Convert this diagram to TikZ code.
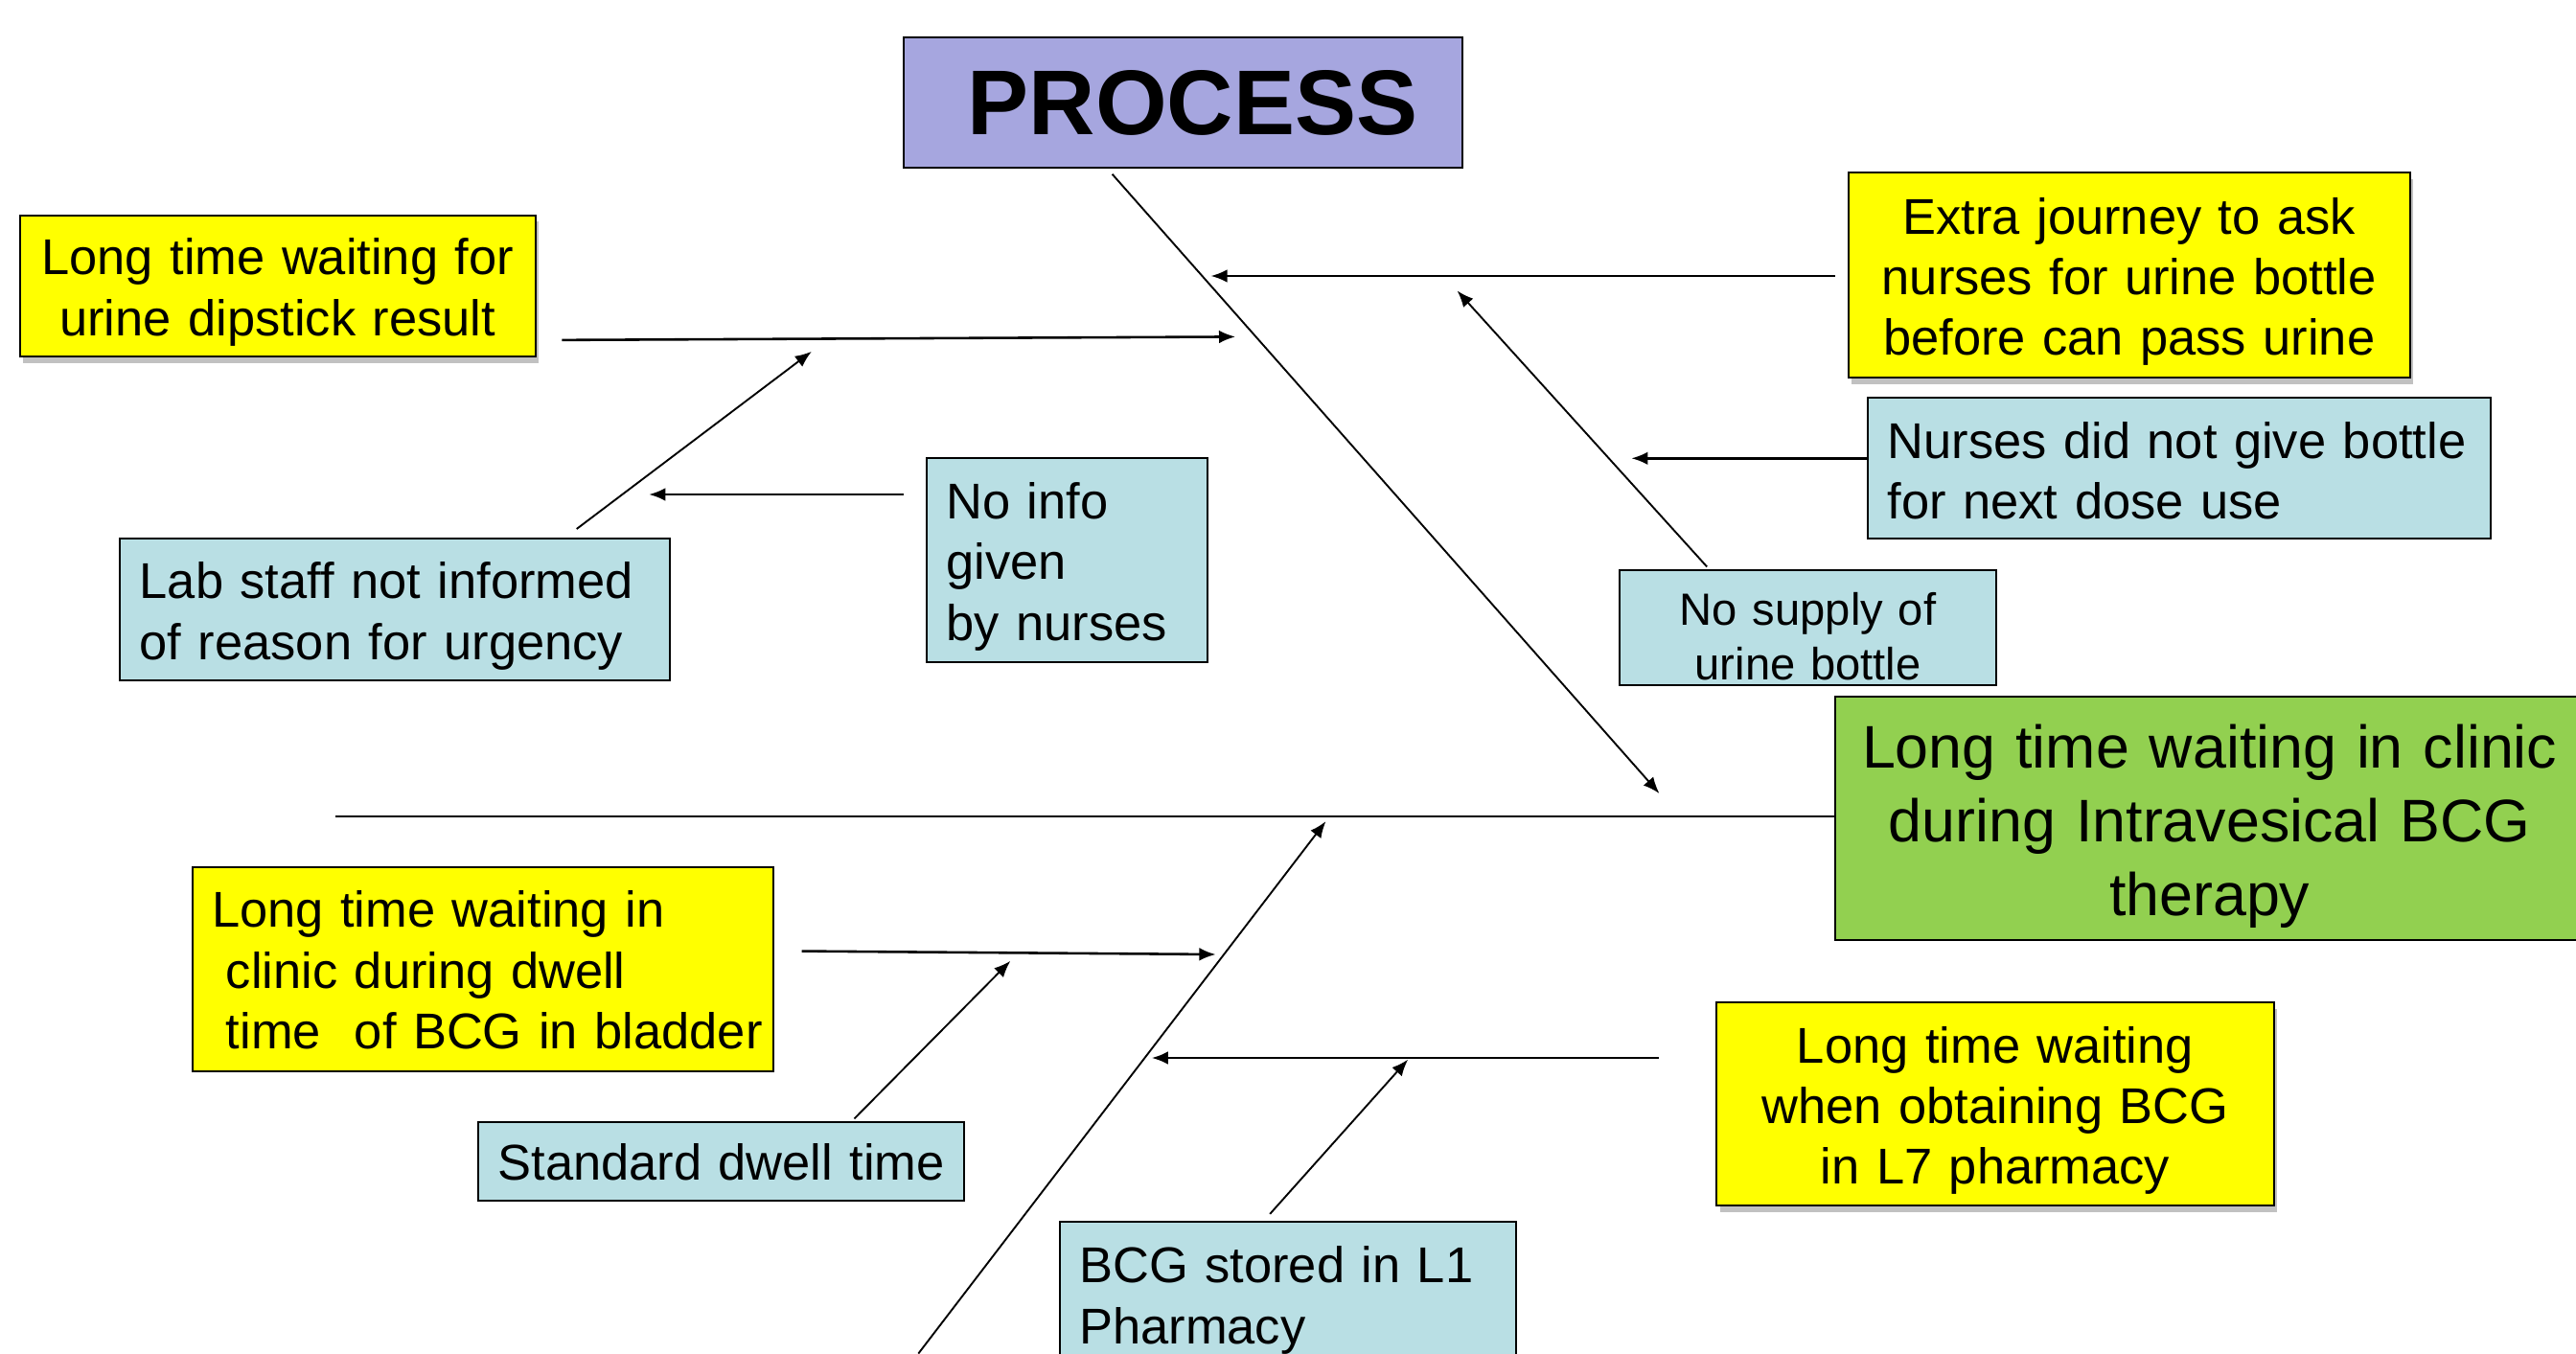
\documentclass[tikz,border=0pt]{standalone}
\usepackage{fontspec}
\setmainfont{Liberation Sans}
\usepackage{tikz}
\usetikzlibrary{
  calc,
  arrows.meta,
  shadows
}
\definecolor{boxYellow}{HTML}{FFFF00}
\definecolor{boxCyan}{HTML}{B9DFE4}
\definecolor{boxPurple}{HTML}{A6A6DF}
\definecolor{boxGreen}{HTML}{92D050}

\tikzset{
  lift/.code={\def\liftamount{#1}},
  cbox/.style={draw, line width=1.2pt, inner xsep=12pt, inner ysep=0pt,
    font=\fontsize{30.6}{37}\selectfont, lift=8pt,
    execute at end node={\par\vspace*{-\liftamount}}},
  ybox/.style={cbox, fill=boxYellow,
    drop shadow={shadow xshift=2pt, shadow yshift=-4pt, opacity=.35, fill=black!70}},
  bbox/.style={cbox, fill=boxCyan},
  cause/.style={line width=1.5pt, -{Latex[length=10pt, width=8pt]}},
  bone/.style={line width=1.1pt, -{Latex[length=10pt, width=8pt]}}
}

\begin{document}
\begin{tikzpicture}[x=1pt, y=-1pt]
      \useasboundingbox (0,0) rectangle (1568,824);

      % 見出しと結果
      \node[draw, line width=1.2pt, fill=boxPurple, minimum width=340pt, minimum height=79pt,
        font=\fontsize{56}{60}\selectfont\bfseries] (process) at (720,62.5) {\hspace*{12pt}PROCESS};
      \node[cbox, fill=boxGreen, text width=432pt, minimum height=148pt, align=center,
        font=\fontsize{36.6}{45}\selectfont, lift=10pt] (effect) at (1345,498)
        {Long time waiting in clinic\\during Intravesical BCG\\therapy};

      % 上側の要因
      \node[ybox, text width=290pt, minimum height=86pt, align=center] (dipstick) at (169,174)
        {\mbox{Long time waiting for}\\\mbox{urine dipstick result}};
      \node[bbox, text width=311pt, minimum height=86pt, align=left] (labstaff) at (240.5,371)
        {\mbox{Lab staff not informed}\\of reason for urgency};
      \node[bbox, text width=147pt, minimum height=124pt, align=left] (noinfo) at (649.5,341)
        {No info\\given\\by nurses};
      \node[ybox, text width=318pt, minimum height=125pt, align=center] (journey) at (1296,167.5)
        {\mbox{Extra journey to ask}\\\mbox{nurses for urine bottle}\\\mbox{before can pass urine}};
      \node[bbox, text width=355pt, minimum height=86pt, align=left, lift=3pt] (nobottle) at (1326.5,285)
        {\mbox{Nurses did not give bottle}\\for next dose use};
      \node[bbox, text width=205pt, minimum height=70pt, align=center,
        font=\fontsize{27.5}{33}\selectfont, lift=11pt] (supply) at (1100.5,382)
        {No supply of\\urine bottle};

      % 下側の要因
      \node[cbox, fill=boxYellow, text width=330pt, minimum height=124pt, align=left, lift=1pt] (dwell) at (294,590)
        {Long time waiting in\\\hspace*{.28em}clinic during dwell\\\mbox{\hspace*{.28em}time\ \ of BCG in bladder}};
      \node[bbox, text width=272pt, minimum height=48pt, align=left] (standard) at (439,707)
        {\mbox{Standard dwell time}};
      \node[ybox, text width=315pt, minimum height=124pt, align=center] (obtain) at (1214.5,672)
        {Long time waiting\\\mbox{when obtaining BCG}\\in L7 pharmacy};
      \node[bbox, text width=254pt, minimum height=87pt, align=left] (stored) at (784,787.5)
        {\mbox{BCG stored in L1}\\Pharmacy};

      % 背骨と大骨の端点
      \coordinate (spineL) at (204,497);
      \coordinate (topA) at (677,106);
      \coordinate (topB) at (1010,483);
      \coordinate (lowA) at (559,824);
      \coordinate (lowB) at (807,500);

      % 小骨の端点
      \coordinate (dipA) at (342,207);
      \coordinate (dipB) at (752,205);
      \coordinate (labA) at (351,322);
      \coordinate (labB) at (494,214);
      \coordinate (infoA) at (550,301);
      \coordinate (infoB) at (395,301);
      \coordinate (jourA) at (1117,168);
      \coordinate (jourB) at (737,168);
      \coordinate (supA) at (1039,345);
      \coordinate (supB) at (887,177);
      \coordinate (nobA) at (1137,279);
      \coordinate (nobB) at (993,279);
      \coordinate (dwA) at (488,579);
      \coordinate (dwB) at (740,581);
      \coordinate (stdA) at (520,681);
      \coordinate (stdB) at (615,585);
      \coordinate (obA) at (1010,644);
      \coordinate (obB) at (701,644);
      \coordinate (stoA) at (773,739);
      \coordinate (stoB) at (857,645);

      % 背骨
      \draw[line width=1.1pt] (spineL) -- (spineL -| effect.west);
      % 上の大骨
      \draw[bone] (topA) -- (topB);
      % 下の大骨
      \draw[bone] (lowA) -- (lowB);

      % 上側の小骨
      \draw[cause] (dipA) -- (dipB);
      \draw[bone] (labA) -- (labB);
      \draw[cause] (infoA) -- (infoB);
      \draw[cause] (jourA) -- (jourB);
      \draw[bone] (supA) -- (supB);
      \draw[cause] (nobA) -- (nobB);

      % 下側の小骨
      \draw[cause] (dwA) -- (dwB);
      \draw[bone] (stdA) -- (stdB);
      \draw[cause] (obA) -- (obB);
      \draw[bone] (stoA) -- (stoB);
    \end{tikzpicture}
\end{document}
